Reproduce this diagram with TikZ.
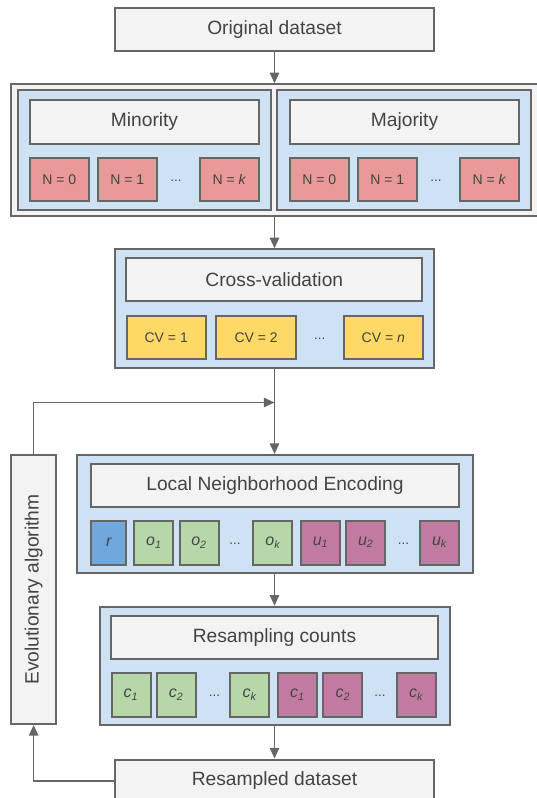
\documentclass[tikz,border=0pt]{standalone}
\usepackage{fontspec}
\setmainfont{Liberation Sans}
\usetikzlibrary{arrows.meta}

\definecolor{linegray}{HTML}{666666}
\definecolor{txtgray}{HTML}{434343}
\definecolor{boxgray}{HTML}{F3F3F3}
\definecolor{panelblue}{HTML}{CFE2F3}
\definecolor{cellred}{HTML}{EA9999}
\definecolor{cellyellow}{HTML}{FFD966}
\definecolor{cellgreen}{HTML}{B6D7A8}
\definecolor{cellpurple}{HTML}{C27BA0}
\definecolor{cellblue}{HTML}{6FA8DC}

\tikzset{
  outline/.style={draw=linegray, line width=1.5pt, inner sep=0pt, text=txtgray},
  graybox/.style={outline, fill=boxgray, font=\fontsize{14.4}{17}\selectfont},
  bluepanel/.style={outline, fill=panelblue},
  ncell/.style={outline, fill=cellred, font=\fontsize{10.5}{12}\selectfont, minimum width=44pt, minimum height=32.7pt},
  cvcell/.style={outline, fill=cellyellow, font=\fontsize{10.5}{12}\selectfont, minimum width=59.5pt, minimum height=32.25pt},
  sqcell/.style={outline, font=\fontsize{12}{14}\selectfont\itshape, minimum width=29.25pt, minimum height=33pt},
  ellip/.style={inner sep=0pt, text=txtgray, font=\fontsize{10}{12}\selectfont},
  conn/.style={draw=linegray, line width=1.3pt, -{Triangle[width=7pt,length=8pt]}},
}
\newcommand{\sub}[2]{#1\textsubscript{#2}}

\begin{document}
\begin{tikzpicture}[x=0.75pt,y=0.75pt,yscale=-1,xscale=1]
\useasboundingbox (0,0) rectangle (536,798);

%Shape: Rectangle [id:original]
\node[graybox, minimum width=239.25pt, minimum height=32.25pt] (orig) at (274.5,29.8) {Original dataset};

%Shape: Rectangle [id:split] 
\node[graybox, minimum width=399pt, minimum height=98.5pt] (split) at (277,150) {};
%Shape: Rectangle [id:minority] 
\node[bluepanel, minimum width=190pt, minimum height=89.5pt] (minpanel) at (144.2,150) {};
\node[graybox, minimum width=171.75pt, minimum height=33pt] (minhead) at (144.5,122) {Minority};
\node[ncell] (mina) at (59.3,179.5) {N = 0};
\node[ncell] (minb) at (127.2,179.5) {N = 1};
\node[ellip] (mindots) at (176,181) {...};
\node[ncell] (mink) at (229.5,179.5) {N = \textit{k}};
%Shape: Rectangle [id:majority] 
\node[bluepanel, minimum width=190pt, minimum height=89.5pt] (majpanel) at (404,150) {};
\node[graybox, minimum width=171.75pt, minimum height=33pt] (majhead) at (404.5,122) {Majority};
\node[ncell] (maja) at (319.3,179.5) {N = 0};
\node[ncell] (majb) at (387.2,179.5) {N = 1};
\node[ellip] (majdots) at (436,181) {...};
\node[ncell] (majk) at (489.5,179.5) {N = \textit{k}};

%Shape: Rectangle [id:crossval] 
\node[bluepanel, minimum width=239.25pt, minimum height=89pt] (cv) at (274.5,308.7) {};
\node[graybox, minimum width=221.8pt, minimum height=32.25pt] (cvhead) at (274.3,279.8) {Cross-validation};
\node[cvcell] (cva) at (166.2,337.5) {CV = 1};
\node[cvcell] (cvb) at (256.1,337.5) {CV = 2};
\node[ellip] (cvdots) at (319.7,339) {...};
\node[cvcell] (cvn) at (383.3,337.5) {CV = \textit{n}};

%Shape: Rectangle [id:encoding] 
\node[bluepanel, minimum width=296.7pt, minimum height=88.5pt] (lne) at (274.7,514) {};
\node[graybox, minimum width=275.6pt, minimum height=32pt] (lnehead) at (275,485.3) {Local Neighborhood Encoding};
\node[sqcell, fill=cellblue, minimum width=26.25pt] (r) at (108.7,542.5) {r};
\node[sqcell, fill=cellgreen] (o1) at (153.9,542.5) {\sub{o}{1}};
\node[sqcell, fill=cellgreen] (o2) at (199,542.5) {\sub{o}{2}};
\node[ellip] (odots) at (235,544) {...};
\node[sqcell, fill=cellgreen] (ok) at (272.8,542.5) {\sub{o}{k}};
\node[sqcell, fill=cellpurple] (u1) at (320.5,542.5) {\sub{u}{1}};
\node[sqcell, fill=cellpurple] (u2) at (365.8,542.5) {\sub{u}{2}};
\node[ellip] (udots) at (403.4,544) {...};
\node[sqcell, fill=cellpurple] (uk) at (439.5,542.5) {\sub{u}{k}};

%Shape: Rectangle [id:counts] 
\node[bluepanel, minimum width=262pt, minimum height=88.7pt] (rc) at (274.9,665.9) {};
\node[graybox, minimum width=244.6pt, minimum height=32.25pt] (rchead) at (274.5,637.5) {Resampling counts};
\node[sqcell, fill=cellgreen] (ga) at (131,694.7) {\sub{c}{1}};
\node[sqcell, fill=cellgreen] (gb) at (176.1,694.7) {\sub{c}{2}};
\node[ellip] (gdots) at (214.4,696) {...};
\node[sqcell, fill=cellgreen] (gk) at (249.5,694.7) {\sub{c}{k}};
\node[sqcell, fill=cellpurple] (pa) at (297.5,694.7) {\sub{c}{1}};
\node[sqcell, fill=cellpurple] (pb) at (342.9,694.7) {\sub{c}{2}};
\node[ellip] (pdots) at (380,696) {...};
\node[sqcell, fill=cellpurple] (pk) at (416.1,694.7) {\sub{c}{k}};

%Shape: Rectangle [id:resampled] 
\node[graybox, minimum width=239.25pt, minimum height=32.25pt] (res) at (274.5,781) {Resampled dataset};

%Shape: Rectangle [id:evolution] 
\node[graybox, minimum width=33.5pt, minimum height=201.75pt] (evo) at (33.6,589.5) {};
% Text Node
\node[rotate=90, text=txtgray, font=\fontsize{14.4}{17}\selectfont] (evotext) at (evo.center) {Evolutionary algorithm};

%Straight Lines
\coordinate (loop) at (274.5,402.5);
\draw[conn] (orig.south) -- (orig.south |- split.north);
\draw[conn] (orig.south |- split.south) -- (orig.south |- cv.north);
\draw[conn] (cv.south) -- (cv.south |- lne.north);
\draw[conn] (evo.north) |- (loop);
\draw[conn] (lne.south -| cv.south) -- (cv.south |- rc.north);
\draw[conn] (rc.south -| cv.south) -- (cv.south |- res.north);
\draw[conn] (res.west) -| (evo.south);

\end{tikzpicture}
\end{document}
